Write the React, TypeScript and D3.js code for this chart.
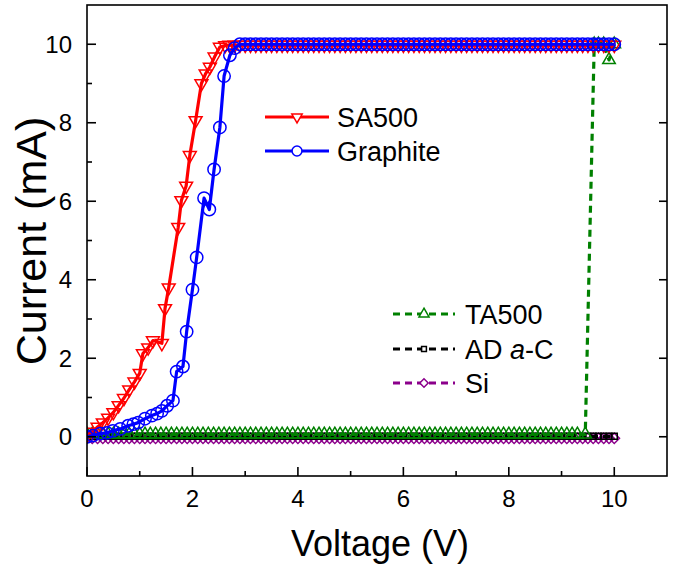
import React from 'react';
import * as d3 from 'd3';

// ---------------- DATA ----------------
const xTicksMajor = [0, 2, 4, 6, 8, 10];
const xTicksMinor = [1, 3, 5, 7, 9];
const yTicksMajor = [0, 2, 4, 6, 8, 10];
const yTicksMinor = [1, 3, 5, 7, 9];

const sa500V = [
  0, 0.1, 0.2, 0.3, 0.4, 0.5, 0.6, 0.7, 0.8, 0.9, 1.0, 1.06, 1.16, 1.25, 1.42, 1.48, 1.55, 1.73, 1.79, 1.88,
  1.95, 2.06, 2.17, 2.25, 2.33, 2.42, 2.52, 2.62, 2.7,
  2.8, 2.9, 3.0, 3.1, 3.2, 3.3, 3.4, 3.5, 3.6, 3.7, 3.8, 3.9, 4.0, 4.1, 4.2, 4.3, 4.4, 4.5, 4.6, 4.7, 4.8, 4.9,
  5.0, 5.1, 5.2, 5.3, 5.4, 5.5, 5.6, 5.7, 5.8, 5.9, 6.0, 6.1, 6.2, 6.3, 6.4, 6.5, 6.6, 6.7, 6.8, 6.9,
  7.0, 7.1, 7.2, 7.3, 7.4, 7.5, 7.6, 7.7, 7.8, 7.9, 8.0, 8.1, 8.2, 8.3, 8.4, 8.5, 8.6, 8.7, 8.8, 8.9,
  9.0, 9.1, 9.2, 9.3, 9.4, 9.5, 9.6, 9.7, 9.8, 9.9, 10.0,
];
const sa500I = [
  0.05, 0.12, 0.25, 0.36, 0.48, 0.62, 0.8, 0.98, 1.2, 1.4, 1.62, 2.12, 2.27, 2.45, 2.38, 3.27, 3.8, 5.34, 6.02, 6.39,
  7.17, 8.06, 9.0, 9.25, 9.42, 9.68, 9.93, 9.97, 9.98,
  9.98, 9.98, 9.98, 9.98, 9.98, 9.98, 9.98, 9.98, 9.98, 9.98, 9.98, 9.98, 9.98, 9.98, 9.98, 9.98, 9.98, 9.98, 9.98, 9.98, 9.98, 9.98,
  9.98, 9.98, 9.98, 9.98, 9.98, 9.98, 9.98, 9.98, 9.98, 9.98, 9.98, 9.98, 9.98, 9.98, 9.98, 9.98, 9.98, 9.98, 9.98, 9.98,
  9.98, 9.98, 9.98, 9.98, 9.98, 9.98, 9.98, 9.98, 9.98, 9.98, 9.98, 9.98, 9.98, 9.98, 9.98, 9.98, 9.98, 9.98, 9.98, 9.98,
  9.98, 9.98, 9.98, 9.98, 9.98, 9.98, 9.98, 9.98, 9.98, 9.98, 9.98,
];

const graphiteV = [
  0, 0.11, 0.25, 0.38, 0.49, 0.63, 0.78, 0.88, 0.97, 1.1, 1.23, 1.33, 1.42, 1.52, 1.63, 1.7, 1.82, 1.89, 2.0, 2.08,
  2.22, 2.32, 2.41, 2.52, 2.6, 2.71, 2.8,
  2.9, 3.0, 3.1, 3.2, 3.3, 3.4, 3.5, 3.6, 3.7, 3.8, 3.9, 4.0, 4.1, 4.2, 4.3, 4.4, 4.5, 4.6, 4.7, 4.8, 4.9,
  5.0, 5.1, 5.2, 5.3, 5.4, 5.5, 5.6, 5.7, 5.8, 5.9, 6.0, 6.1, 6.2, 6.3, 6.4, 6.5, 6.6, 6.7, 6.8, 6.9,
  7.0, 7.1, 7.2, 7.3, 7.4, 7.5, 7.6, 7.7, 7.8, 7.9, 8.0, 8.1, 8.2, 8.3, 8.4, 8.5, 8.6, 8.7, 8.8, 8.9,
  9.0, 9.1, 9.2, 9.3, 9.4, 9.5, 9.6, 9.7, 9.8, 9.9, 10.0,
];
const graphiteI = [
  0.0, 0.03, 0.08, 0.1, 0.15, 0.2, 0.28, 0.32, 0.36, 0.46, 0.54, 0.59, 0.66, 0.79, 0.92, 1.66, 1.79, 2.68, 3.75, 4.57,
  6.08, 5.79, 6.81, 7.88, 9.19, 9.72, 9.9,
  10, 10, 10, 10, 10, 10, 10, 10, 10, 10, 10, 10, 10, 10, 10, 10, 10, 10, 10, 10, 10,
  10, 10, 10, 10, 10, 10, 10, 10, 10, 10, 10, 10, 10, 10, 10, 10, 10, 10, 10, 10,
  10, 10, 10, 10, 10, 10, 10, 10, 10, 10, 10, 10, 10, 10, 10, 10, 10, 10, 10, 10,
  10, 10, 10, 10, 10, 10, 10, 10, 10, 10, 10,
];

const ta500V = [
  0, 0.1, 0.2, 0.3, 0.4, 0.5, 0.6, 0.7, 0.8, 0.9, 1.0, 1.1, 1.2, 1.3, 1.4, 1.5, 1.6, 1.7, 1.8, 1.9,
  2.0, 2.1, 2.2, 2.3, 2.4, 2.5, 2.6, 2.7, 2.8, 2.9, 3.0, 3.1, 3.2, 3.3, 3.4, 3.5, 3.6, 3.7, 3.8, 3.9,
  4.0, 4.1, 4.2, 4.3, 4.4, 4.5, 4.6, 4.7, 4.8, 4.9, 5.0, 5.1, 5.2, 5.3, 5.4, 5.5, 5.6, 5.7, 5.8, 5.9,
  6.0, 6.1, 6.2, 6.3, 6.4, 6.5, 6.6, 6.7, 6.8, 6.9, 7.0, 7.1, 7.2, 7.3, 7.4, 7.5, 7.6, 7.7, 7.8, 7.9,
  8.0, 8.1, 8.2, 8.3, 8.4, 8.5, 8.6, 8.7, 8.8, 8.9, 9.0, 9.1, 9.2, 9.3, 9.45,
  9.62, 9.7, 9.8, 9.9, 10.0,
];
const ta500I = [
  0.06, 0.06, 0.06, 0.06, 0.06, 0.06, 0.06, 0.06, 0.06, 0.06, 0.06, 0.06, 0.06, 0.06, 0.06, 0.06, 0.06, 0.06, 0.06, 0.06,
  0.06, 0.06, 0.06, 0.06, 0.06, 0.06, 0.06, 0.06, 0.06, 0.06, 0.06, 0.06, 0.06, 0.06, 0.06, 0.06, 0.06, 0.06, 0.06, 0.06,
  0.06, 0.06, 0.06, 0.06, 0.06, 0.06, 0.06, 0.06, 0.06, 0.06, 0.06, 0.06, 0.06, 0.06, 0.06, 0.06, 0.06, 0.06, 0.06, 0.06,
  0.06, 0.06, 0.06, 0.06, 0.06, 0.06, 0.06, 0.06, 0.06, 0.06, 0.06, 0.06, 0.06, 0.06, 0.06, 0.06, 0.06, 0.06, 0.06, 0.06,
  0.06, 0.06, 0.06, 0.06, 0.06, 0.06, 0.06, 0.06, 0.06, 0.06, 0.06, 0.06, 0.06, 0.06, 0.06,
  10.0, 10.0, 10.0, 9.6, 10.0,
];

const sweepV = [
  0, 0.1, 0.2, 0.3, 0.4, 0.5, 0.6, 0.7, 0.8, 0.9, 1.0, 1.1, 1.2, 1.3, 1.4, 1.5, 1.6, 1.7, 1.8, 1.9,
  2.0, 2.1, 2.2, 2.3, 2.4, 2.5, 2.6, 2.7, 2.8, 2.9, 3.0, 3.1, 3.2, 3.3, 3.4, 3.5, 3.6, 3.7, 3.8, 3.9,
  4.0, 4.1, 4.2, 4.3, 4.4, 4.5, 4.6, 4.7, 4.8, 4.9, 5.0, 5.1, 5.2, 5.3, 5.4, 5.5, 5.6, 5.7, 5.8, 5.9,
  6.0, 6.1, 6.2, 6.3, 6.4, 6.5, 6.6, 6.7, 6.8, 6.9, 7.0, 7.1, 7.2, 7.3, 7.4, 7.5, 7.6, 7.7, 7.8, 7.9,
  8.0, 8.1, 8.2, 8.3, 8.4, 8.5, 8.6, 8.7, 8.8, 8.9, 9.0, 9.1, 9.2, 9.3, 9.4, 9.5, 9.6, 9.7, 9.8, 9.9,
  10.0,
];
const adacI = [
  0.01, 0.01, 0.01, 0.01, 0.01, 0.01, 0.01, 0.01, 0.01, 0.01, 0.01, 0.01, 0.01, 0.01, 0.01, 0.01, 0.01, 0.01, 0.01, 0.01,
  0.01, 0.01, 0.01, 0.01, 0.01, 0.01, 0.01, 0.01, 0.01, 0.01, 0.01, 0.01, 0.01, 0.01, 0.01, 0.01, 0.01, 0.01, 0.01, 0.01,
  0.01, 0.01, 0.01, 0.01, 0.01, 0.01, 0.01, 0.01, 0.01, 0.01, 0.01, 0.01, 0.01, 0.01, 0.01, 0.01, 0.01, 0.01, 0.01, 0.01,
  0.01, 0.01, 0.01, 0.01, 0.01, 0.01, 0.01, 0.01, 0.01, 0.01, 0.01, 0.01, 0.01, 0.01, 0.01, 0.01, 0.01, 0.01, 0.01, 0.01,
  0.01, 0.01, 0.01, 0.01, 0.01, 0.01, 0.01, 0.01, 0.01, 0.01, 0.01, 0.01, 0.01, 0.01, 0.01, 0.01, 0.01, 0.01, 0.01, 0.01,
  0.01,
];
const siI = [
  -0.04, -0.04, -0.04, -0.04, -0.04, -0.04, -0.04, -0.04, -0.04, -0.04, -0.04, -0.04, -0.04, -0.04, -0.04, -0.04, -0.04, -0.04, -0.04, -0.04,
  -0.04, -0.04, -0.04, -0.04, -0.04, -0.04, -0.04, -0.04, -0.04, -0.04, -0.04, -0.04, -0.04, -0.04, -0.04, -0.04, -0.04, -0.04, -0.04, -0.04,
  -0.04, -0.04, -0.04, -0.04, -0.04, -0.04, -0.04, -0.04, -0.04, -0.04, -0.04, -0.04, -0.04, -0.04, -0.04, -0.04, -0.04, -0.04, -0.04, -0.04,
  -0.04, -0.04, -0.04, -0.04, -0.04, -0.04, -0.04, -0.04, -0.04, -0.04, -0.04, -0.04, -0.04, -0.04, -0.04, -0.04, -0.04, -0.04, -0.04, -0.04,
  -0.04, -0.04, -0.04, -0.04, -0.04, -0.04, -0.04, -0.04, -0.04, -0.04, -0.04, -0.04, -0.04, -0.04, -0.04, -0.04, -0.04, -0.04, -0.04, -0.04,
  -0.04,
];

// ---------------- STYLE ----------------
const FONT = '"Liberation Sans", Arial, Helvetica, sans-serif';
const W = 675;
const H = 567;
const PL = 87, PR = 667, PT = 5, PB = 476;

const x = d3.scaleLinear().domain([0, 11]).range([PL, PR]);
const y = d3.scaleLinear().domain([-1, 11]).range([PB, PT]);

type Marker = 'tri-down' | 'tri-up' | 'circle' | 'square' | 'diamond';

interface Series {
  name: string;
  v: number[];
  i: number[];
  color: string;
  dash?: string;
  marker: Marker;
}

const series: Series[] = [
  { name: 'Si', v: sweepV, i: siI, color: '#8B008B', dash: '7,5', marker: 'diamond' },
  { name: 'AD a-C', v: sweepV, i: adacI, color: '#000000', dash: '7,5', marker: 'square' },
  { name: 'TA500', v: ta500V, i: ta500I, color: '#008000', dash: '7,5', marker: 'tri-up' },
  { name: 'SA500', v: sa500V, i: sa500I, color: '#FF0000', marker: 'tri-down' },
  { name: 'Graphite', v: graphiteV, i: graphiteI, color: '#0000FF', marker: 'circle' },
];

function markerPath(m: Marker, scale = 1): { d: string; rot: number } {
  switch (m) {
    case 'tri-down':
      return { d: d3.symbol().type(d3.symbolTriangle).size(72 * scale * scale)() as string, rot: 180 };
    case 'tri-up':
      return { d: d3.symbol().type(d3.symbolTriangle).size(68 * scale * scale)() as string, rot: 0 };
    case 'circle':
      return { d: d3.symbol().type(d3.symbolCircle).size(120 * scale * scale)() as string, rot: 0 };
    case 'square':
      return { d: d3.symbol().type(d3.symbolSquare).size(36 * scale * scale)() as string, rot: 0 };
    case 'diamond':
      return { d: d3.symbol().type(d3.symbolSquare).size(55 * scale * scale)() as string, rot: 45 };
  }
}

const lineGen = d3
  .line<[number, number]>()
  .x((d) => x(d[0]))
  .y((d) => y(d[1]));

function SeriesMarks({ s }: { s: Series }) {
  const pts: [number, number][] = s.v.map((v, k) => [v, s.i[k]]);
  const mk = markerPath(s.marker);
  return (
    <g>
      <path
        d={lineGen(pts) as string}
        fill="none"
        stroke={s.color}
        strokeWidth={3.2}
        strokeDasharray={s.dash}
        strokeLinejoin="round"
      />
      {pts.map((p, k) => (
        <path
          key={k}
          d={mk.d}
          transform={`translate(${x(p[0])},${y(p[1])}) rotate(${mk.rot})`}
          fill="none"
          stroke={s.color}
          strokeWidth={1.5}
        />
      ))}
    </g>
  );
}

function LegendItem({
  s, lx0, lx1, ly, tx, label,
}: { s: Series; lx0: number; lx1: number; ly: number; tx: number; label: React.ReactNode }) {
  const mk = markerPath(s.marker, 0.8);
  const mx = (lx0 + lx1) / 2;
  return (
    <g>
      <line x1={lx0} x2={lx1} y1={ly} y2={ly} stroke={s.color} strokeWidth={3.2} strokeDasharray={s.dash} />
      <path d={mk.d} transform={`translate(${mx},${ly}) rotate(${mk.rot})`} fill="#fff" stroke={s.color} strokeWidth={1.5} />
      <text x={tx} y={ly + 10} fontSize={27} fontFamily={FONT} fill="#000">
        {label}
      </text>
    </g>
  );
}

export default function App() {
  const byName = (n: string) => series.find((s) => s.name === n)!;
  return (
    <svg
      width={W}
      height={H}
      viewBox={`0 0 ${W} ${H}`}
      style={{ position: 'absolute', left: 0, top: 0, background: '#fff' }}
    >
      <rect x={0} y={0} width={W} height={H} fill="#fff" />
      <defs>
        <clipPath id="plotClip">
          <rect x={PL} y={PT} width={PR - PL} height={PB - PT} />
        </clipPath>
      </defs>

      {/* series */}
      <g clipPath="url(#plotClip)">
        {series.map((s) => (
          <SeriesMarks key={s.name} s={s} />
        ))}
      </g>

      {/* frame */}
      <rect x={PL} y={PT} width={PR - PL} height={PB - PT} fill="none" stroke="#000" strokeWidth={1.6} />

      {/* x ticks */}
      {xTicksMajor.map((t) => (
        <g key={'xm' + t}>
          <line x1={x(t)} x2={x(t)} y1={PB} y2={PB - 9} stroke="#000" strokeWidth={1.6} />
          <text x={x(t)} y={PB + 31} textAnchor="middle" fontSize={24} fontFamily={FONT}>
            {t}
          </text>
        </g>
      ))}
      {xTicksMinor.map((t) => (
        <line key={'xn' + t} x1={x(t)} x2={x(t)} y1={PB} y2={PB - 5} stroke="#000" strokeWidth={1.6} />
      ))}

      {/* y ticks */}
      {yTicksMajor.map((t) => (
        <g key={'ym' + t}>
          <line x1={PL} x2={PL + 9} y1={y(t)} y2={y(t)} stroke="#000" strokeWidth={1.6} />
          <line x1={PR} x2={PR - 8} y1={y(t)} y2={y(t)} stroke="#000" strokeWidth={1.6} />
          <text x={PL - 15} y={y(t) + 8.5} textAnchor="end" fontSize={24} fontFamily={FONT}>
            {t}
          </text>
        </g>
      ))}
      {yTicksMinor.map((t) => (
        <line key={'yn' + t} x1={PL} x2={PL + 5} y1={y(t)} y2={y(t)} stroke="#000" strokeWidth={1.6} />
      ))}

      {/* axis titles */}
      <text x={380} y={556} textAnchor="middle" fontSize={36} fontFamily={FONT}>
        Voltage (V)
      </text>
      <text
        transform={`translate(46,241) rotate(-90)`}
        textAnchor="middle"
        fontSize={43}
        fontFamily={FONT}
      >
        Current (mA)
      </text>

      {/* legends */}
      <LegendItem s={byName('SA500')} lx0={265} lx1={329} ly={117} tx={337} label="SA500" />
      <LegendItem s={byName('Graphite')} lx0={265} lx1={329} ly={151} tx={337} label="Graphite" />
      <LegendItem s={byName('TA500')} lx0={393} lx1={455} ly={314} tx={465} label="TA500" />
      <LegendItem
        s={byName('AD a-C')}
        lx0={393}
        lx1={455}
        ly={349}
        tx={465}
        label={
          <>
            AD <tspan fontStyle="italic">a</tspan>-C
          </>
        }
      />
      <LegendItem s={byName('Si')} lx0={393} lx1={455} ly={383} tx={465} label="Si" />
    </svg>
  );
}
